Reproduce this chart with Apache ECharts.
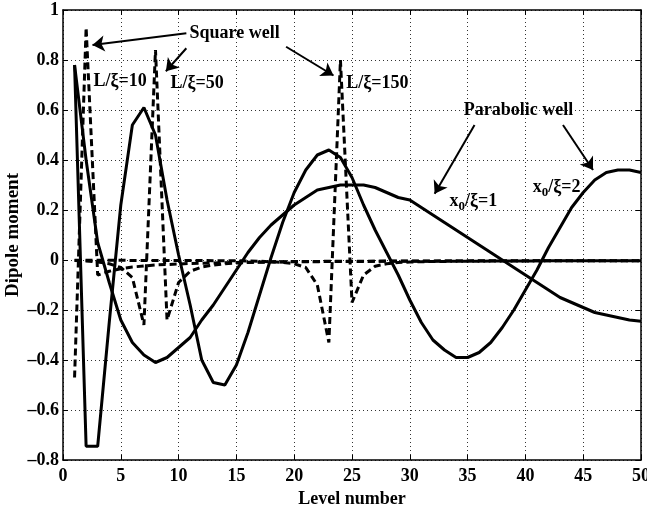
<!DOCTYPE html>
<html><head><meta charset="utf-8">
<script src="https://cdn.jsdelivr.net/npm/echarts@6/dist/echarts.min.js"></script>
<style>html,body{margin:0;padding:0;background:#fff}#c{width:647px;height:508px}</style>
</head><body><div id="c"></div>
<script>
// ---- data ----
const levels = [];
for (let i = 1; i <= 50; i++) levels.push(i);

const squareL10 = [-0.47, 0.93, -0.06, -0.045, -0.035, -0.028, -0.024, -0.02, -0.018, -0.016,
  -0.014, -0.013, -0.012, -0.011, -0.01, -0.009, -0.009, -0.008, -0.008, -0.007,
  -0.007, -0.007, -0.006, -0.006, -0.006, -0.006, -0.005, -0.005, -0.005, -0.005,
  -0.005, -0.005, -0.004, -0.004, -0.004, -0.004, -0.004, -0.004, -0.004, -0.004,
  -0.003, -0.003, -0.003, -0.003, -0.003, -0.003, -0.003, -0.003, -0.003, -0.003];

const squareL50 = [-0.002, -0.004, -0.008, -0.015, -0.03, -0.07, -0.26, 0.84, -0.24, -0.09,
  -0.045, -0.028, -0.02, -0.015, -0.012, -0.01, -0.008, -0.007, -0.007, -0.006,
  -0.006, -0.006, -0.005, -0.005, -0.005, -0.005, -0.005, -0.004, -0.004, -0.004,
  -0.004, -0.004, -0.004, -0.004, -0.004, -0.003, -0.003, -0.003, -0.003, -0.003,
  -0.003, -0.003, -0.003, -0.003, -0.003, -0.003, -0.003, -0.003, -0.003, -0.003];

const squareL150 = [-0.001, -0.001, -0.001, -0.001, -0.001, -0.002, -0.002, -0.002, -0.002, -0.002,
  -0.002, -0.002, -0.003, -0.003, -0.003, -0.004, -0.005, -0.007, -0.01, -0.015,
  -0.03, -0.10, -0.33, 0.80, -0.17, -0.06, -0.025, -0.015, -0.01, -0.008,
  -0.007, -0.006, -0.006, -0.005, -0.005, -0.005, -0.004, -0.004, -0.004, -0.004,
  -0.004, -0.003, -0.003, -0.003, -0.003, -0.003, -0.003, -0.003, -0.003, -0.003];

const parabolicX1 = [0.78, 0.40, 0.07, -0.09, -0.24, -0.33, -0.38, -0.41, -0.39, -0.35,
  -0.31, -0.24, -0.18, -0.11, -0.04, 0.03, 0.09, 0.14, 0.18, 0.22,
  0.25, 0.28, 0.29, 0.30, 0.30, 0.30, 0.29, 0.27, 0.25, 0.24,
  0.21, 0.18, 0.15, 0.12, 0.09, 0.06, 0.03, 0.00, -0.03, -0.06,
  -0.09, -0.12, -0.15, -0.17, -0.19, -0.21, -0.22, -0.23, -0.24, -0.245];

const parabolicX2 = [0.78, -0.745, -0.745, -0.25, 0.22, 0.54, 0.61, 0.50, 0.24, 0.02,
  -0.18, -0.40, -0.49, -0.50, -0.42, -0.29, -0.14, 0.01, 0.15, 0.27,
  0.36, 0.42, 0.44, 0.41, 0.33, 0.22, 0.12, 0.03, -0.06, -0.16,
  -0.25, -0.32, -0.36, -0.39, -0.39, -0.37, -0.33, -0.27, -0.20, -0.12,
  -0.04, 0.05, 0.13, 0.21, 0.27, 0.32, 0.35, 0.36, 0.36, 0.35];

const xTickMin = 0, xTickMax = 50, xTickStep = 5;
const yTickMin = -0.8, yTickMax = 1, yTickStep = 0.2;

const annotations = [
  { text: 'Square well', at: [14.85, 0.905] },
  { text: 'L/ξ=10', at: [4.95, 0.713] },
  { text: 'L/ξ=50', at: [11.6, 0.708] },
  { text: 'L/ξ=150', at: [27.2, 0.708] },
  { text: 'Parabolic well', at: [39.4, 0.60] },
  { text: '{a|x}{s|0}{a|/ξ=1}', at: [35.5, 0.235] },
  { text: '{a|x}{s|0}{a|/ξ=2}', at: [42.7, 0.29] }
];
const arrows = [
  [[10.67, 0.907], [2.55, 0.86]],
  [[10.67, 0.847], [8.9, 0.755]],
  [[19.3, 0.853], [23.4, 0.738]],
  [[35.6, 0.54], [32.15, 0.265]],
  [[43.25, 0.54], [45.85, 0.36]]
];

// ---- chart ----
const FONT = '"Liberation Serif", "Times New Roman", serif';
const FS = 18;
const pairs = vals => levels.map((l, i) => [l, vals[i]]);
const fmtY = v => {
  if (Math.abs(v) < 1e-9) return '0';
  if (Math.abs(v - 1) < 1e-9) return '1';
  return (v < 0 ? '\u2013' : '') + Math.abs(v).toFixed(1);
};

const labelStyle = { color: '#000', fontFamily: FONT, fontWeight: 'bold', fontSize: FS };
const solid = { color: '#000', width: 3, type: 'solid' };
const dashed = { color: '#000', width: 3, type: [7, 4] };

function lineSeries(name, vals, style, extra) {
  return Object.assign({
    name, type: 'line', data: pairs(vals), showSymbol: false, symbol: 'none',
    lineStyle: style, itemStyle: { color: '#000' }, silent: true, animation: false,
    xAxisIndex: 0, yAxisIndex: 0
  }, extra || {});
}

const chart = echarts.init(document.getElementById('c'), null, { renderer: 'canvas' });
chart.setOption({
  animation: false,
  backgroundColor: '#fff',
  grid: { left: 63, right: 6, top: 10, bottom: 48, show: false, containLabel: false, outerBoundsMode: 'none' },
  xAxis: [{
    type: 'value', min: xTickMin, max: xTickMax, interval: xTickStep, position: 'bottom',
    name: 'Level number', nameLocation: 'middle', nameGap: 26,
    nameTextStyle: labelStyle,
    axisLine: { show: true, onZero: false, lineStyle: { color: '#000', width: 1.5 } },
    axisTick: { show: true, inside: true, length: 5, lineStyle: { color: '#000', width: 1 } },
    axisLabel: Object.assign({ margin: 7 }, labelStyle),
    splitLine: { show: true, lineStyle: { color: '#333', width: 1, type: [1, 3] } }
  }, {
    type: 'value', min: xTickMin, max: xTickMax, interval: xTickStep, position: 'top',
    axisLine: { show: true, onZero: false, lineStyle: { color: '#000', width: 1.5 } },
    axisTick: { show: true, inside: true, length: 5, lineStyle: { color: '#000', width: 1 } },
    axisLabel: { show: false }, splitLine: { show: false }
  }],
  yAxis: [{
    type: 'value', min: yTickMin, max: yTickMax, interval: yTickStep, position: 'left',
    name: 'Dipole moment', nameLocation: 'middle', nameGap: 40, nameMoveOverlap: false,
    nameTextStyle: Object.assign({}, labelStyle, { fontSize: 19 }),
    axisLine: { show: true, onZero: false, lineStyle: { color: '#000', width: 1.5 } },
    axisTick: { show: true, inside: true, length: 5, lineStyle: { color: '#000', width: 1 } },
    axisLabel: Object.assign({ margin: 4, formatter: fmtY }, labelStyle),
    splitLine: { show: true, lineStyle: { color: '#333', width: 1, type: [1, 3] } }
  }, {
    type: 'value', min: yTickMin, max: yTickMax, interval: yTickStep, position: 'right',
    axisLine: { show: true, onZero: false, lineStyle: { color: '#000', width: 1.5 } },
    axisTick: { show: true, inside: true, length: 5, lineStyle: { color: '#000', width: 1 } },
    axisLabel: { show: false }, splitLine: { show: false }
  }],
  series: [
    lineSeries('L/ξ=10', squareL10, dashed),
    lineSeries('L/ξ=50', squareL50, dashed),
    lineSeries('L/ξ=150', squareL150, dashed),
    lineSeries('x0/ξ=1', parabolicX1, solid),
    lineSeries('x0/ξ=2', parabolicX2, solid, {
      markLine: {
        silent: true, animation: false,
        symbol: ['none', 'arrow'], symbolSize: 12,
        label: { show: false },
        itemStyle: { color: '#000' },
        lineStyle: { color: '#000', width: 2, type: 'solid' },
        data: arrows.map(a => [
          { coord: a[0], symbol: 'none' },
          { coord: a[1], symbol: 'arrow', symbolSize: 12 }
        ])
      },
      markPoint: {
        silent: true, animation: false,
        symbol: 'circle', symbolSize: 0,
        itemStyle: { color: 'rgba(0,0,0,0)' },
        data: annotations.map(a => ({
          coord: a.at,
          label: {
            show: true, position: 'inside', formatter: a.text,
            color: '#000', fontFamily: FONT, fontWeight: 'bold', fontSize: FS,
            rich: {
              a: { color: '#000', fontFamily: FONT, fontWeight: 'bold', fontSize: FS },
              s: { color: '#000', fontFamily: FONT, fontWeight: 'bold', fontSize: 13, padding: [10, 0, 0, 0] }
            }
          }
        }))
      }
    })
  ]
});
</script>
</body></html>
